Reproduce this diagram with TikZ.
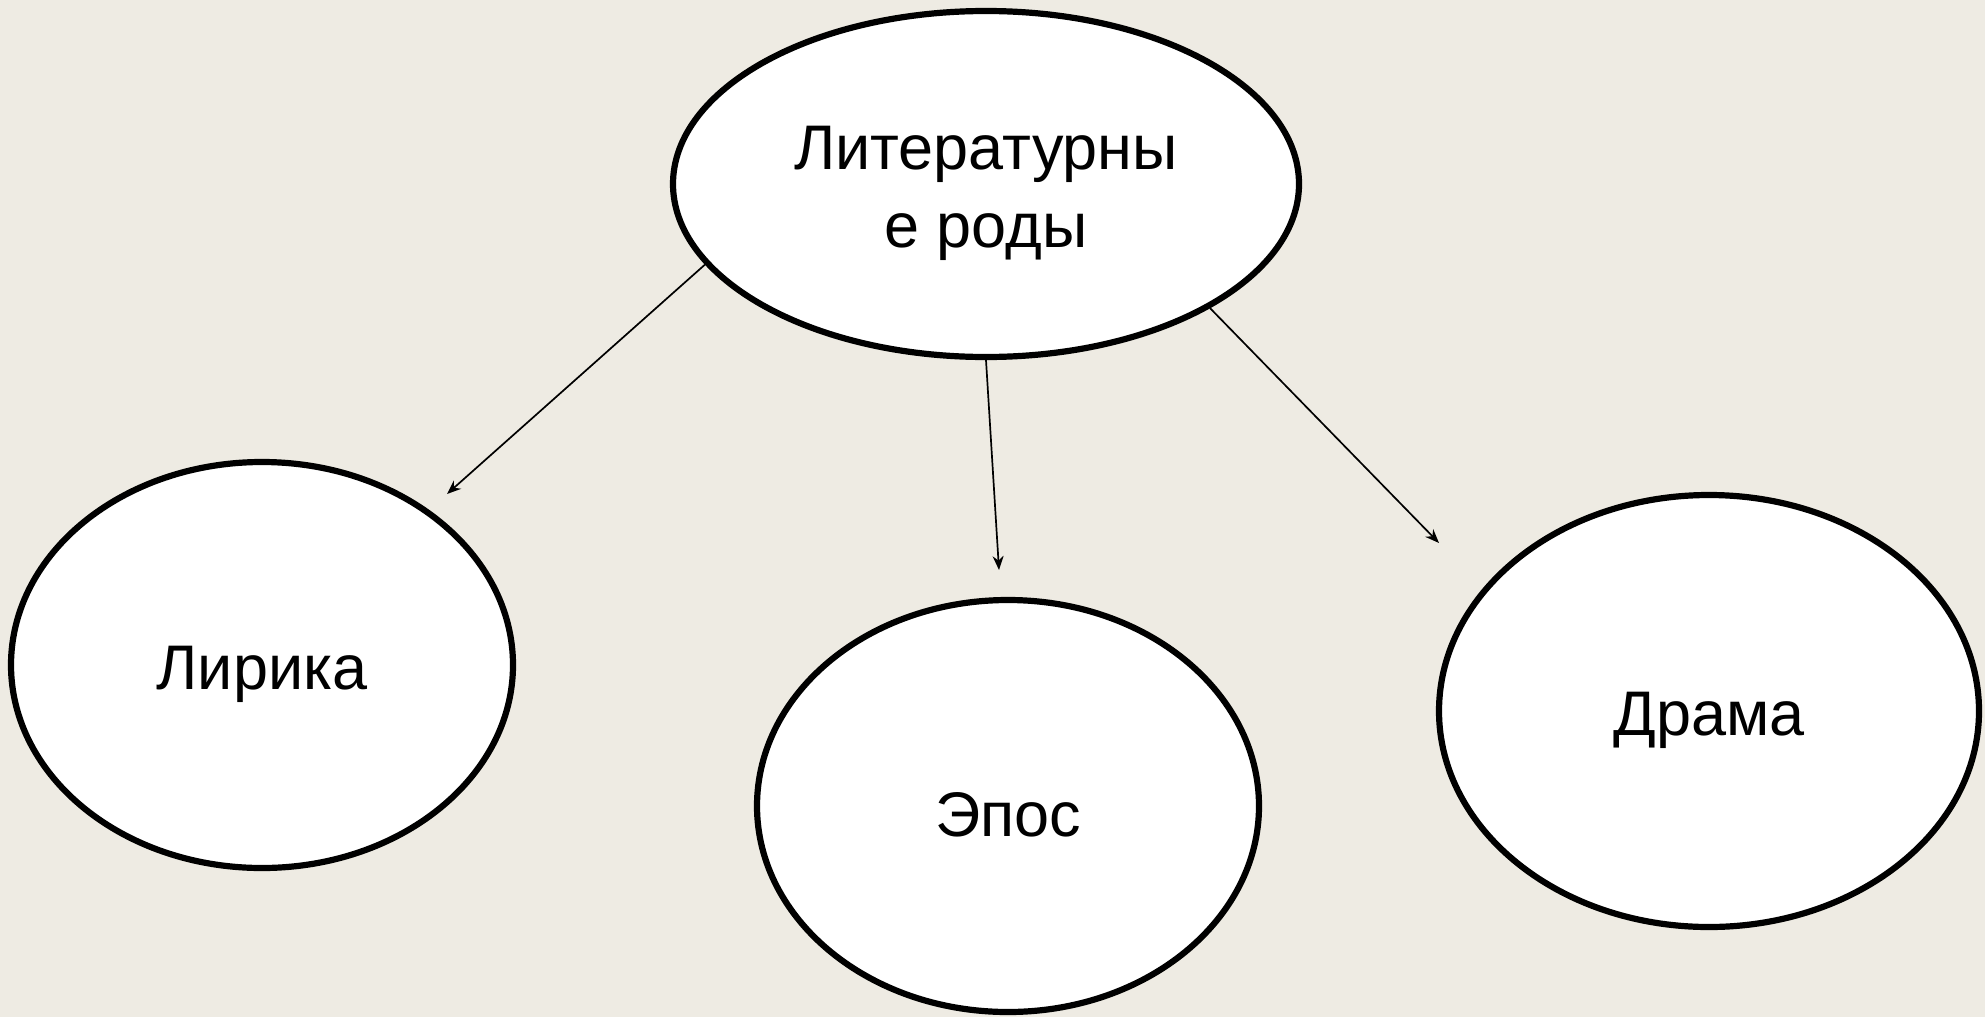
\documentclass[tikz,border=0pt]{standalone}
\usepackage{fontspec}
\setmainfont{Liberation Sans}
\usetikzlibrary{shapes.geometric,arrows.meta}
\definecolor{bg}{HTML}{EEEBE3}
\newcommand\lowertxt[1]{\raisebox{-4.5pt}[\height][\depth]{#1}}
\tikzset{
  oval/.style={ellipse, draw=black, fill=white, line width=3.1pt, inner sep=0pt, font=\fontsize{31.5}{39}\selectfont, align=center},
  link/.style={line width=0.85pt, -{Stealth[length=7pt,width=5.5pt]}}
}
\begin{document}
\begin{tikzpicture}[x=0.5pt,y=-0.5pt]
\fill[bg] (0,0) rectangle (1985,1017);
\useasboundingbox (0,0) rectangle (1985,1017);
\node[oval, minimum width=313pt, minimum height=173pt] (top) at (986,184) {\lowertxt{Литературны}\\\lowertxt{е роды}};
\node[oval, minimum width=251pt, minimum height=203pt] (lyr) at (262,665) {\lowertxt{Лирика}};
\node[oval, minimum width=251pt, minimum height=206pt] (epo) at (1008,806) {\lowertxt{Эпос}};
\node[oval, minimum width=270pt, minimum height=216pt] (dra) at (1709,711) {\lowertxt{Драма}};
\coordinate (e1) at (447,494);
\coordinate (e2) at (999,570);
\coordinate (e3) at (1439,543);
\draw[link] (top.196.9) -- (e1);
\draw[link] (top.270) -- (e2);
\draw[link] (top.331.2) -- (e3);
\end{tikzpicture}
\end{document}
